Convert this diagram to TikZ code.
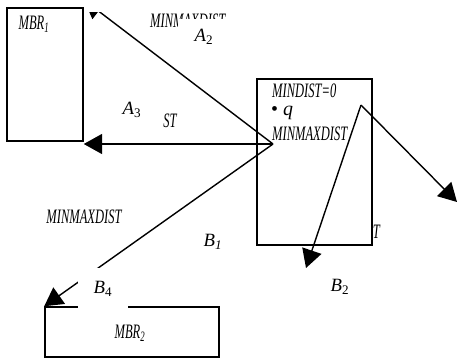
\documentclass[tikz,border=0pt]{standalone}
\usepackage{fontspec}
\setmainfont{Liberation Serif}
\newfontface\capsit[FakeStretch=0.61]{Liberation Serif Italic}
\usetikzlibrary{arrows.meta}
\tikzset{
  >={Triangle[length=5.5mm, width=6mm]},
  %
  mbr/.style={draw, line width=1.3pt, fill=white, inner sep=0pt},
  ray/.style={line width=1.2pt, ->},
  %
  dist/.style={font=\capsit\fontsize{17.5}{19}\selectfont, inner sep=0pt},
  area/.style={font=\fontsize{16}{18}\selectfont, fill=white, inner sep=3pt},
}

\begin{document}
\begin{tikzpicture}[x=0.03cm, y=-0.03cm]
  \useasboundingbox (0,0) rectangle (457,358);

  % ---- labels that the boxes partly hide ---------------------------------
  \node[dist, anchor=west] (mmdTop) at (150,21) {MINMAXDIST};
  \node[dist, anchor=east] (mmdRight) at (380,232) {MINMAXDIST};

  % ---- rectangles ---------------------------------------------------------
  \node[mbr, minimum width=2.28cm, minimum height=3.99cm] (mbrA) at (45,74.5) {};
  \node[mbr, minimum width=3.45cm, minimum height=4.98cm] (qbox) at (314.5,162) {};
  \node[mbr, minimum width=5.22cm, minimum height=1.5cm] (mbrB) at (132,332) {};

  \node[dist] (mbrAname) at (34,24) {MBR\textsubscript{1}};
  \node[dist] (mbrBname) at (130,333) {MBR\textsubscript{2}};

  % ---- query box text -----------------------------------------------------
  \node[dist, anchor=west] (mindist) at (272,91) {MINDIST=0};
  \node[anchor=west, inner sep=0pt, font=\fontsize{17}{19}\selectfont] (qpt) at (271,113)
    {\textbullet\ \textit{q}};
  \node[dist, anchor=west] (mmdQ) at (272,134) {MINMAXDIST};

  \coordinate (src) at (273,144);
  \coordinate (far) at (361,105);
  \coordinate (ulTip) at (84,0);
  \coordinate (rTip) at (457,202);
  \coordinate (dTip) at (306,268);

  % ---- rays ---------------------------------------------------------------
  \begin{scope}
    \clip (0,12) rectangle (457,358);
    \draw[ray] (src) -- (ulTip);
  \end{scope}
  \draw[ray] (src) -- (src -| mbrA.east);
  \draw[ray] (src) -- (mbrB.north west);
  \draw[ray] (far) -- (rTip);
  \draw[ray] (far) -- (dTip);

  % ---- area labels --------------------------------------------------------
  \node[area, minimum width=1.56cm, minimum height=1.11cm] (areaA2) at (204,37)
    {\textit{A}\textsubscript{2}};
  \node[area] (areaA3) at (132,110) {\textit{A}\textsubscript{3}};
  \node[dist, fill=white, inner sep=3pt] (stTail) at (170,121) {ST};
  \node[dist, fill=white, inner sep=3pt] (mmdLeft) at (84,217) {MINMAXDIST};
  \node[area] (areaB1) at (213,242) {\textit{B}\textsubscript{\itshape 1}};
  \node[area, minimum width=1.5cm, minimum height=1.23cm] (areaB4) at (103,288.5)
    {\textit{B}\textsubscript{4}};
  \node[area] (areaB2) at (340,287) {\textit{B}\textsubscript{2}};

\end{tikzpicture}
\end{document}
